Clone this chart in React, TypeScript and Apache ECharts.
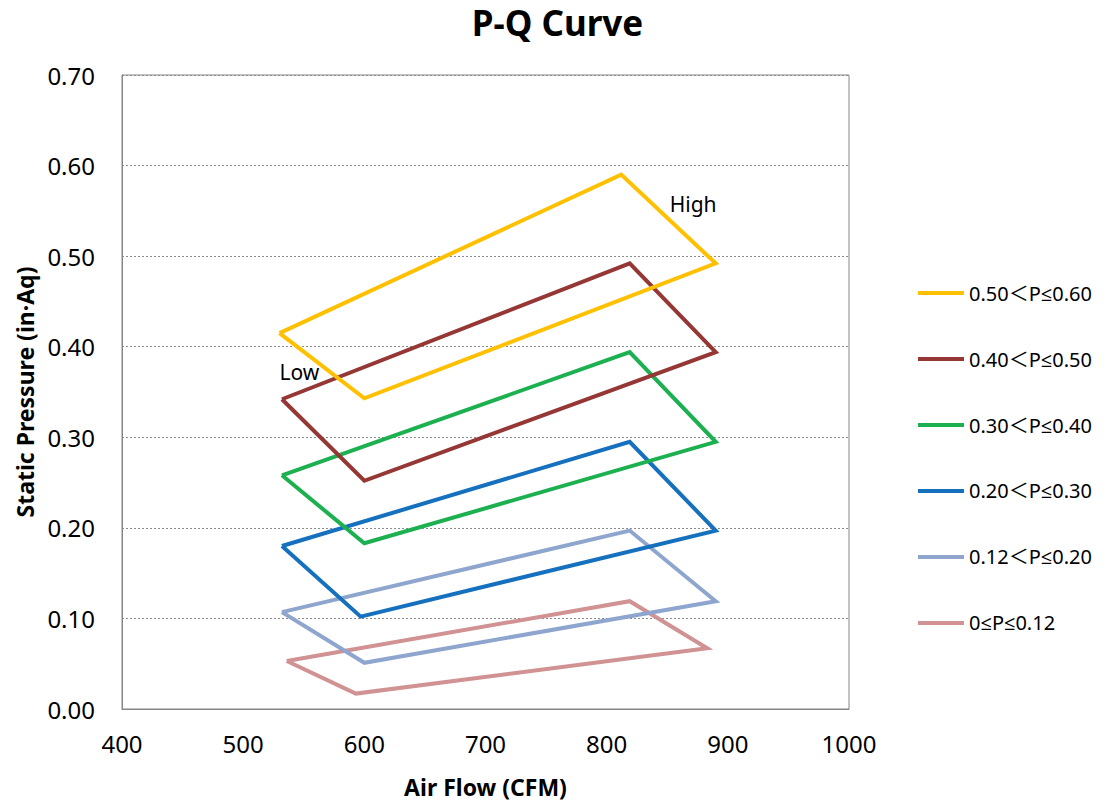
import React, { useEffect, useRef } from "react";
import * as echarts from "echarts";

const seriesNames = [
  "0.50＜P≤0.60",
  "0.40＜P≤0.50",
  "0.30＜P≤0.40",
  "0.20＜P≤0.30",
  "0.12＜P≤0.20",
  "0≤P≤0.12",
];
const seriesColors = ["#FFC000", "#953735", "#1DB050", "#1570BE", "#8EA6CE", "#D09292"];

// Closed outlines: low-left, low-bottom, high-right, high-top, back to start
const band60: [number, number][] = [[530, 0.415], [600, 0.343], [890, 0.492], [812, 0.59], [530, 0.415]];
const band50: [number, number][] = [[532, 0.342], [600, 0.252], [890, 0.394], [819, 0.492], [532, 0.342]];
const band40: [number, number][] = [[532, 0.258], [600, 0.183], [890, 0.295], [819, 0.394], [532, 0.258]];
const band30: [number, number][] = [[532, 0.18], [597, 0.102], [890, 0.197], [819, 0.295], [532, 0.18]];
const band20: [number, number][] = [[532, 0.107], [600, 0.051], [890, 0.119], [819, 0.197], [532, 0.107]];
const band12: [number, number][] = [[536, 0.053], [593, 0.017], [883, 0.067], [819, 0.119], [536, 0.053]];
const bands = [band60, band50, band40, band30, band20, band12];

const annotations: { name: string; value: [number, number] }[] = [
  { name: "High", value: [852, 0.558] },
  { name: "Low", value: [530, 0.372] },
];

const xTicks = { min: 400, max: 1000, interval: 100 };
const yTicks = { min: 0, max: 0.7, interval: 0.1 };

const FONT = "'Noto Sans', 'Open Sans', 'Noto Sans CJK JP', sans-serif";

export default function App() {
  const ref = useRef<HTMLDivElement>(null);
  useEffect(() => {
    if (!ref.current) return;
    const chart = echarts.init(ref.current, undefined, { renderer: "svg" });
    const lineSeries = bands.map((d, i) => ({
      name: seriesNames[i],
      type: "line",
      data: d,
      symbol: "none",
      lineStyle: { color: seriesColors[i], width: 4, join: "miter" },
      itemStyle: { color: seriesColors[i] },
      z: 10 - i,
    }));
    chart.setOption({
      animation: false,
      backgroundColor: "#ffffff",
      textStyle: { fontFamily: FONT },
      title: {
        text: "P-Q Curve",
        left: "center",
        top: 0,
        textStyle: { fontSize: 35, fontWeight: "bold", color: "#000", fontFamily: FONT },
      },
      grid: {
        left: 122,
        top: 75,
        width: 727,
        height: 635,
        show: true,
        borderColor: "#868686",
        borderWidth: 1,
        backgroundColor: "transparent",
      },
      legend: {
        orient: "vertical",
        left: 913,
        top: 278,
        itemWidth: 46,
        itemHeight: 4,
        itemGap: 46,
        icon: "rect",
        data: seriesNames,
        textStyle: { fontSize: 20, color: "#000", fontFamily: FONT },
      },
      xAxis: {
        type: "value",
        min: xTicks.min,
        max: xTicks.max,
        interval: xTicks.interval,
        name: "Air Flow (CFM)",
        nameLocation: "middle",
        nameGap: 66,
        nameTextStyle: { fontSize: 23, fontWeight: "bold", color: "#000", fontFamily: FONT },
        axisLine: { show: true, lineStyle: { color: "#868686", width: 1 } },
        axisTick: { show: false },
        splitLine: { show: false },
        axisLabel: {
          fontSize: 24,
          color: "#000",
          margin: 22,
          fontFamily: FONT,
          formatter: (v: number) => String(v),
        },
      },
      yAxis: {
        type: "value",
        min: yTicks.min,
        max: yTicks.max,
        interval: yTicks.interval,
        name: "Static Pressure (in·Aq)",
        nameLocation: "middle",
        nameGap: 84,
        nameTextStyle: { fontSize: 23, fontWeight: "bold", color: "#000", fontFamily: FONT },
        axisLine: { show: true, lineStyle: { color: "#868686", width: 1 } },
        axisTick: { show: false },
        splitLine: { show: true, lineStyle: { color: "#8c8c8c", type: [2, 2], width: 1 } },
        axisLabel: {
          fontSize: 24,
          color: "#000",
          margin: 27,
          fontFamily: FONT,
          formatter: (v: number) => v.toFixed(2),
        },
      },
      series: [
        ...lineSeries,
        {
          name: "labels",
          type: "scatter",
          data: annotations.map((a) => ({ name: a.name, value: a.value })),
          symbolSize: 0,
          silent: true,
          itemStyle: { opacity: 1 },
          label: {
            show: true,
            position: "right",
            distance: 0,
            formatter: (p: any) => p.name,
            fontSize: 21,
            color: "#000",
            opacity: 1,
            fontFamily: FONT,
          },
          z: 20,
        },
      ],
    });
    return () => chart.dispose();
  }, []);
  return (
    <div
      ref={ref}
      style={{ position: "fixed", left: 0, top: 0, width: 1115, height: 803, background: "#fff" }}
    />
  );
}
